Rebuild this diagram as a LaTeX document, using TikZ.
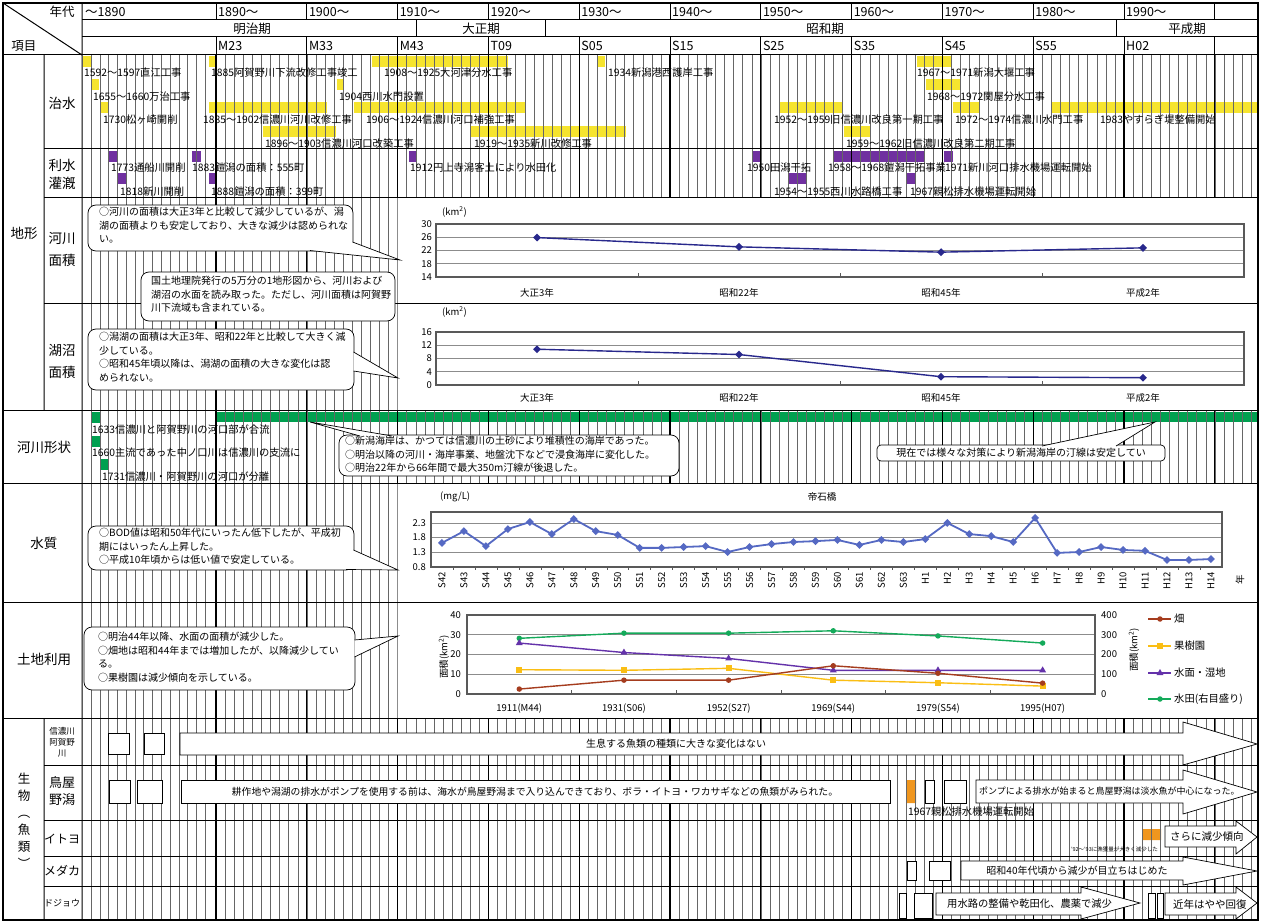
\documentclass[tikz,border=0pt]{standalone}
\usepackage{fontspec}
\setmainfont{Noto Sans CJK JP}
\usetikzlibrary{shapes.geometric}
\definecolor{barY}{RGB}{246,228,46}
\definecolor{barP}{RGB}{112,48,160}
\definecolor{barG}{RGB}{0,160,80}
\definecolor{barO}{RGB}{240,150,30}
\definecolor{navy}{RGB}{40,40,140}
\definecolor{bodB}{RGB}{85,105,195}
\definecolor{hatB}{RGB}{165,60,30}
\definecolor{fruY}{RGB}{250,190,20}
\definecolor{watP}{RGB}{100,50,170}
\definecolor{padG}{RGB}{20,170,90}
\newcommand\fsz[2]{\fontsize{#1}{#2}\selectfont}
\newcommand\callptr[3]{\fill[white]#1--#2--#3--cycle;\draw[cw]#1--#2--#3;}
\tikzset{gl/.style={draw=black!60,line width=.4pt},dl/.style={line width=1.1pt},rl/.style={line width=1pt},
 lb/.style={anchor=west,inner sep=0,font=\fsz{10.3}{11}},hd/.style={inner sep=0,font=\fsz{12.5}{13}},
 it/.style={inner sep=0,align=center,font=\fsz{13.5}{22}},
 cb/.style={draw,fill=white,rounded corners=8pt,line width=.7pt},cw/.style={line width=.7pt},
 ct/.style={anchor=north west,inner sep=0,align=left,font=\fsz{10}{13.5}},
 pn/.style={draw=black!45,fill=white,line width=.4pt},pa/.style={draw=black!65,line width=1.1pt},
 pg/.style={draw=black!45,line width=.6pt},tk/.style={inner sep=1pt,font=\fsz{9.5}{10}},
 fa/.style={draw,fill=white,line width=.7pt},ax/.style={inner sep=0,font=\fsz{10}{11}},
 mkD/.style={diamond,fill=#1,inner sep=0,minimum size=8pt},
 mkC/.style={circle,fill=#1,inner sep=0,minimum size=5.5pt},
 mkS/.style={rectangle,fill=#1,inner sep=0,minimum size=6pt},
 mkT/.style={regular polygon,regular polygon sides=3,fill=#1,inner sep=0,minimum size=8pt},
 srl/.style={draw=#1,line width=1.4pt}}
\begin{document}
\begin{tikzpicture}[x=1pt,y=-1pt]
\useasboundingbox(0,0)rectangle(1261,923);
% bars
\foreach\a/\b/\y in{83/91/56,209/216/56,372/508/56,597/605/56,917/952/56,92/99/79,337/344/79,926/961/79,101/109/102,209/327/102,354/526/102,780/843/102,953/979/102,1052/1258/102,263/336/126,471/626/126,844/870/126}\fill[barY](\a,\y)rectangle(\b,\y+11);
\foreach\a/\b/\y in{109/118/151,192/201/151,409/417/151,753/762/151,834/924/151,944/953/151,118/127/173,209/216/173,789/807/173,907/916/173}\fill[barP](\a,\y)rectangle(\b,\y+11);
\fill[barG](216,412)rectangle(1258,422);
\foreach\a/\y in{91/412,91/436,100/459}\fill[barG](\a,\y)rectangle(\a+9,\y+11);
\fill[barO](907,780)rectangle(916,803)(1142,829)rectangle(1161,840);
% year grid
\foreach\j in{0,...,13}\draw[gl]({91+\j*8.77},55)--({91+\j*8.77},920);
\foreach\k in{0,...,114}\draw[gl]({216+\k*9.08},55)--({216+\k*9.08},920);
\foreach\k in{0,10,...,110}\draw[dl]({216+\k*9.08},55)--({216+\k*9.08},920);
% chart panels
\foreach\t/\b in{197/303,303/410,483/602,602/718}\draw[pn](397,\t)rectangle(1258,\b);
% table frame
\foreach\y in{55,410,483,602,718}\draw[rl](3,\y)--(1258,\y);
\foreach\y in{149,197,303,765,820,856,886}\draw[rl](44,\y)--(1258,\y);
\draw[rl](82,20)--(1258,20)(82,37)--(1258,37)(416,20)--(416,37)(545,20)--(545,37)(1116,20)--(1116,37);
\draw[rl](44,55)--(44,410)(44,718)--(44,920)(82,3)--(82,920)(3,3)--(82,55);
\foreach\k in{0,10,...,110}\draw[rl]({216+\k*9.08},3)--++(0,17)({216+\k*9.08},37)--++(0,18);
\draw[line width=1.3pt](3,3)rectangle(1258,920);
% header
\node[hd](nendai)at(62,12){年代};\node[hd](koumoku)at(24,46){項目};\node[hd,anchor=west](y0)at(85,12){～1890};
\foreach\k/\d/\e in{0/1890/M23,10/1900/M33,20/1910/M43,30/1920/T09,40/1930/S05,50/1940/S15,60/1950/S25,70/1960/S35,80/1970/S45,90/1980/S55,100/1990/H02}{\node[hd,anchor=west](y\d)at({218+\k*9.08},12){\d～};\node[hd,anchor=west](w\d)at({218+\k*9.08},46){\e};}
\foreach\t/\x/\n in{明治期/252/meiji,大正期/481/taisho,昭和期/825/showa,平成期/1187/heisei}\node[hd](\n)at(\x,29){\t};
% row labels
\node[it](chikei)at(24,233){地形};\node[it](chisui)at(62,103){治水};\node[it,font=\fsz{13.5}{18}](risui)at(62,174){利水\\灌漑};
\node[it](kamen)at(62,249){河川\\面積};\node[it](komen)at(62,361){湖沼\\面積};
\node[it](keijo)at(44,447){河川形状};\node[it](suishitsu)at(44,543){水質};\node[it](tochi)at(44,659){土地利用};
\node[it,font=\fsz{12.5}{17}](seibutsu)at(24,821){生\\物\\︵\\魚\\類\\︶};
\node[it,font=\fsz{8.5}{11}](shinano)at(62,742){信濃川\\阿賀野\\川};\node[it,font=\fsz{13}{17}](toya)at(62,791){鳥屋\\野潟};
\node[it,font=\fsz{12}{13}](itoyo)at(62,839){イトヨ};\node[it,font=\fsz{12}{13}](medaka)at(62,871){メダカ};\node[it,font=\fsz{9}{10}](dojo)at(62,903){ドジョウ};
% event labels
\foreach\x/\y/\t[count=\i]in{84/73/1592～1597直江工事,211/73/1885阿賀野川下流改修工事竣工,384/73/1908～1925大河津分水工事,608/73/1934新潟港西護岸工事,917/73/1967～1971新潟大堰工事,93/97/1655～1660万治工事,339/97/1904西川水門設置,927/97/1968～1972関屋分水工事,103/120/1730松ヶ崎開削,203/120/1885～1902信濃川河川改修工事,366/120/1906～1924信濃川河口補強工事,774/120/1952～1959旧信濃川改良第一期工事,955/120/1972～1974信濃川水門工事,1100/120/1983やすらぎ堤整備開始,265/144/1896～1903信濃川河口改築工事,474/144/1919～1935新川改修工事,846/144/1959～1962旧信濃川改良第二期工事}\node[lb](ev\i)at(\x,\y){\t};
\foreach\x/\y/\t[count=\i]in{111/168/1773通船川開削,192/168/1883鎧潟の面積：555町,410/168/1912円上寺潟客土により水田化,747/168/1950田潟干拓,828/168/1958～1968鎧潟干拓事業,945/168/1971新川河口排水機場運転開始,120/192/1818新川開削,211/192/1888鎧潟の面積：399町,774/192/1954～1955西川水路橋工事,910/192/1967親松排水機場運転開始}\node[lb](rv\i)at(\x,\y){\t};
\foreach\x/\y/\t[count=\i]in{92/430/1633信濃川と阿賀野川の河口部が合流,92/453/1660主流であった中ノ口川は信濃川の支流に,102/477/1731信濃川・阿賀野川の河口が分離}\node[lb](kv\i)at(\x,\y){\t};
% chart: river area
\foreach\v in{18,22,26}\draw[pg](436,{277-(\v-14)*3.3125})--(1244,{277-(\v-14)*3.3125});
\draw[pa](436,224)rectangle(1244,277);
\foreach\i in{1,2,3}\draw[pa,line width=.6pt]({436+\i*202},277)--++(0,-4)({436+\i*202},385)--++(0,-4);
\foreach\v in{14,18,...,30}\node[tk,anchor=east](ka\v)at(433,{277-(\v-14)*3.3125}){\v};
\node[tk,anchor=west](kau)at(441,212){(km\textsuperscript{2})};
\foreach\v[count=\i]in{25.9,23.1,21.5,22.8}\node[mkD=navy](rp\i)at({335+\i*202},{277-(\v-14)*3.3125}){};
\draw[srl=navy](rp1.center)--(rp2.center)--(rp3.center)--(rp4.center);
% chart: lake area
\foreach\v in{4,8,12}\draw[pg](436,{385-\v*3.3125})--(1244,{385-\v*3.3125});
\draw[pa](436,332)rectangle(1244,385);
\foreach\v in{0,4,...,16}\node[tk,anchor=east](la\v)at(433,{385-\v*3.3125}){\v};
\node[tk,anchor=west](lau)at(441,312){(km\textsuperscript{2})};
\foreach\v[count=\i]in{10.8,9.2,2.5,2.2}\node[mkD=navy](lp\i)at({335+\i*202},{385-\v*3.3125}){};
\draw[srl=navy](lp1.center)--(lp2.center)--(lp3.center)--(lp4.center);
\foreach\c[count=\i from 0]in{大正3年,昭和22年,昭和45年,平成2年}{\node[tk](kc\i)at({537+\i*202},293){\c};\node[tk](lc\i)at({537+\i*202},398){\c};}
% chart: BOD
\foreach\v in{1.3,1.8,2.3}\draw[pg](431,{567-(\v-.8)*29.4})--(1222,{567-(\v-.8)*29.4});
\draw[pa](431,512)rectangle(1222,567);
\foreach\i in{1,...,35}\draw[pa,line width=.5pt]({431+\i*21.97},567)--++(0,3);
\foreach\v[count=\i]in{0.8,1.3,1.8,2.3}\node[tk,anchor=east](by\i)at(427,{567-(\v-.8)*29.4}){\v};
\node[tk,anchor=west](bu)at(439,497){(mg/L)};\node[tk](bt)at(822,497){帝石橋};\node[tk,rotate=90](nen)at(1240,580){年};
\foreach\c[count=\i]in{S42,S43,S44,S45,S46,S47,S48,S49,S50,S51,S52,S53,S54,S55,S56,S57,S58,S59,S60,S61,S62,S63,H1,H2,H3,H4,H5,H6,H7,H8,H9,H10,H11,H12,H13,H14}\node[tk,rotate=90,anchor=east](bx\i)at({420+\i*21.97},571){\c};
\foreach\v[count=\i]in{1.62,2.02,1.51,2.09,2.33,1.92,2.43,2.02,1.89,1.45,1.45,1.48,1.51,1.31,1.48,1.58,1.65,1.68,1.72,1.55,1.72,1.65,1.75,2.30,1.92,1.85,1.65,2.47,1.28,1.31,1.48,1.38,1.35,1.04,1.04,1.07}\node[mkD=bodB](b\i)at({420+\i*21.97},{567-(\v-.8)*29.4}){};
\draw[srl=bodB,line width=1.8pt](b1.center)foreach\i in{2,...,36}{--(b\i.center)};
% chart: land use
\foreach\v in{10,20,30}\draw[pg](467,{694-\v*1.975})--(1095,{694-\v*1.975});
\draw[pa](467,615)rectangle(1095,694);
\foreach\i in{1,...,5}\draw[pa,line width=.6pt]({467+\i*104.67},694)--++(0,-4);
\foreach\v/\w in{0/0,10/100,20/200,30/300,40/400}{\node[tk,anchor=east](lu\v)at(462,{694-\v*1.975}){\v};\node[tk,anchor=west](ru\v)at(1100,{694-\v*1.975}){\w};}
\node[tk,rotate=90](lut)at(444,657){面積(km\textsuperscript{2})};\node[tk,rotate=90](rut)at(1134,650){面積(km\textsuperscript{2})};
\foreach\c[count=\i from 0]in{1911(M44),1931(S06),1952(S27),1969(S44),1979(S54),1995(H07)}\node[tk](uc\i)at({519.3+\i*104.67},709){\c};
\foreach\v[count=\i]in{28.2,30.8,30.8,32,29.4,25.8}\node[mkC=padG](p\i)at({414.6+\i*104.67},{694-\v*1.975}){};
\draw[srl=padG](p1.center)foreach\i in{2,...,6}{--(p\i.center)};
\foreach\v[count=\i]in{25.8,21,18,12,12,12}\node[mkT=watP](w\i)at({414.6+\i*104.67},{694-\v*1.975}){};
\draw[srl=watP](w1.center)foreach\i in{2,...,6}{--(w\i.center)};
\foreach\v[count=\i]in{12.3,12,13,7,5.7,4}\node[mkS=fruY](f\i)at({414.6+\i*104.67},{694-\v*1.975}){};
\draw[srl=fruY](f1.center)foreach\i in{2,...,6}{--(f\i.center)};
\foreach\v[count=\i]in{2.5,7,7,14.3,10.5,5.5}\node[mkC=hatB](h\i)at({414.6+\i*104.67},{694-\v*1.975}){};
\draw[srl=hatB](h1.center)foreach\i in{2,...,6}{--(h\i.center)};
\node[mkC=hatB](lg1)at(1160,619){};\draw[srl=hatB]([xshift=-12pt]lg1.center)--([xshift=11pt]lg1.center);\node[lb](lt1)at(1174,619){畑};
\node[mkS=fruY](lg2)at(1160,646){};\draw[srl=fruY]([xshift=-12pt]lg2.center)--([xshift=11pt]lg2.center);\node[lb](lt2)at(1174,646){果樹園};
\node[mkT=watP](lg3)at(1160,673){};\draw[srl=watP]([xshift=-12pt]lg3.center)--([xshift=11pt]lg3.center);\node[lb](lt3)at(1174,673){水面・湿地};
\node[mkC=padG](lg4)at(1160,699){};\draw[srl=padG]([xshift=-12pt]lg4.center)--([xshift=11pt]lg4.center);\node[lb](lt4)at(1174,699){水田(右目盛り)};
% callouts
\draw[cb](88,205)rectangle(353,251);\callptr{(310,250.5)}{(400,260)}{(352.5,242)}
\node[ct](c1)at(99,207){○河川の面積は大正3年と比較して減少しているが、潟\\湖の面積よりも安定しており、大きな減少は認められな\\い。};
\draw[cb](141,272)rectangle(395,321);
\node[ct](c2)at(151,276){国土地理院発行の5万分の1地形図から、河川および\\湖沼の水面を読み取った。ただし、河川面積は阿賀野\\川下流域も含まれている。};
\draw[cb](88,329)rectangle(354,390);\callptr{(353.5,352)}{(398,378)}{(353.5,371)}
\node[ct](c3)at(99,332){○潟湖の面積は大正3年、昭和22年と比較して大きく減\\少している。\\○昭和45年頃以降は、潟湖の面積の大きな変化は認\\められない。};
\draw[cb](339,435)rectangle(679,476);\callptr{(360,436)}{(310,422)}{(392,436)}
\node[ct](c4)at(345,436){○新潟海岸は、かつては信濃川の土砂により堆積性の海岸であった。\\○明治以降の河川・海岸事業、地盤沈下などで浸食海岸に変化した。\\○明治22年から66年間で最大350m汀線が後退した。};
\draw[cb,rounded corners=4pt](877,445)rectangle(1165,461);\callptr{(1042,446)}{(1155,422)}{(1116,446)}
\node[ax](c5)at(1021,453){現在では様々な対策により新潟海岸の汀線は安定してい};
\draw[cb](88,526)rectangle(354,570);\callptr{(353.5,550)}{(398,570)}{(346,569.5)}
\node[ct](c6)at(99,528){○BOD値は昭和50年代にいったん低下したが、平成初\\期にはいったん上昇した。\\○平成10年頃からは低い値で安定している。};
\draw[cb](84,627)rectangle(355,690);\callptr{(354.5,640)}{(398,636)}{(354.5,657)}
\node[ct](c7)at(98,632){○明治44年以降、水面の面積が減少した。\\○畑地は昭和44年までは増加したが、以降減少してい\\る。\\○果樹園は減少傾向を示している。};
% fish rows
\foreach\a/\b/\t/\u in{108/129/733/754,144/164/733/754,109/130/780/803,137/162/780/803,925/934/780/803,944/966/780/803,907/916/861/880,929/950/861/880,899/906/893/918,914/932/893/918,1148/1155/893/918,1157/1163/893/918}\draw[fa](\a,\t)rectangle(\b,\u);
\draw[fa](181,780)rectangle(890,803);
\draw[fa](180,733)--(1183,733)--(1183,722)--(1257,744)--(1183,765)--(1183,755)--(180,755)--cycle;
\draw[fa](976,780)--(1183,780)--(1183,770)--(1257,792)--(1183,814)--(1183,803)--(976,803)--cycle;
\draw[fa](1165,826)--(1236,826)--(1236,821)--(1257,837)--(1236,854)--(1236,847)--(1165,847)--cycle;
\draw[fa](961,861)--(1183,861)--(1183,857)--(1257,871)--(1183,885)--(1183,880)--(961,880)--cycle;
\draw[fa](936,893)--(1081,893)--(1081,887)--(1140,903)--(1081,919)--(1081,915)--(936,915)--cycle;
\draw[fa](1165,893)--(1236,893)--(1236,887)--(1257,903)--(1236,919)--(1236,915)--(1165,915)--cycle;
\node[ax](fs1)at(676,744){生息する魚類の種類に大きな変化はない};
\node[ax,font=\fsz{9.8}{11}](fs2)at(535,791.5){耕作地や潟湖の排水がポンプを使用する前は、海水が鳥屋野潟まで入り込んできており、ボラ・イトヨ・ワカサギなどの魚類がみられた。};
\node[ax,anchor=west,font=\fsz{9}{10}](fs3)at(979,791.5){ポンプによる排水が始まると鳥屋野潟は淡水魚が中心になった。};
\node[lb](fs4)at(908,812){1967親松排水機場運転開始};
\node[lb,anchor=east,font=\fsz{5.5}{6}](fs5)at(1158,849){'92～'93に漁獲量が大きく減少した};
\node[lb,font=\fsz{10.5}{11}](fs6)at(1170,836.5){さらに減少傾向};
\node[ax](fs7)at(1077,870.5){昭和40年代頃から減少が目立ちはじめた};
\node[lb](fs8)at(947,904){用水路の整備や乾田化、農薬で減少};
\node[lb,font=\fsz{10.5}{11}](fs9)at(1173,904){近年はやや回復};
\end{tikzpicture}
\end{document}
